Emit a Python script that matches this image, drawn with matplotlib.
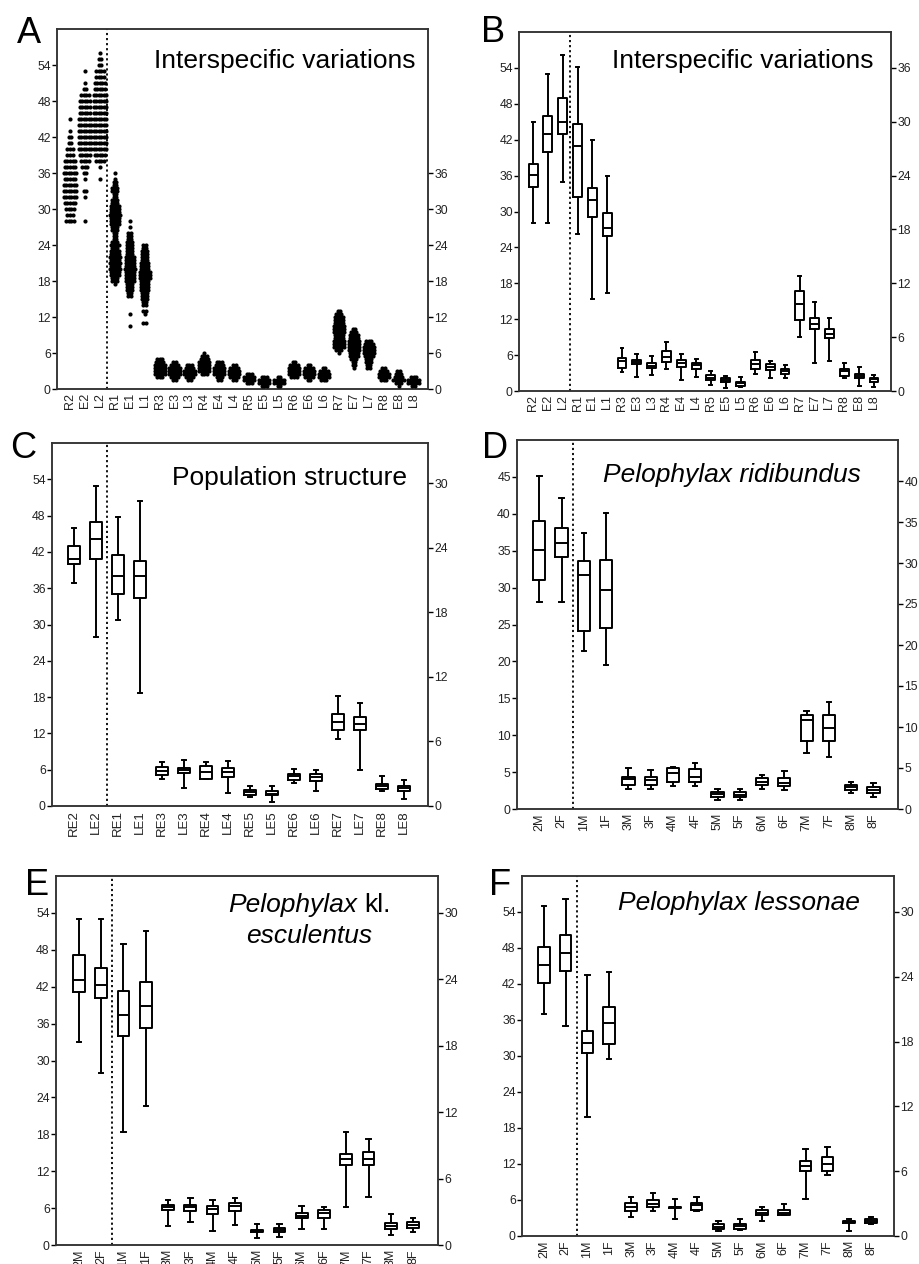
import matplotlib.pyplot as plt

plt.rcParams['font.family'] = ['Liberation Sans', 'DejaVu Sans']

# ---------------- data ----------------
rel_labels = ['R2', 'E2', 'L2', 'R1', 'E1', 'L1', 'R3', 'E3', 'L3', 'R4', 'E4', 'L4',
              'R5', 'E5', 'L5', 'R6', 'E6', 'L6', 'R7', 'E7', 'L7', 'R8', 'E8', 'L8']
pop_labels = ['RE2', 'LE2', 'RE1', 'LE1', 'RE3', 'LE3', 'RE4', 'LE4',
              'RE5', 'LE5', 'RE6', 'LE6', 'RE7', 'LE7', 'RE8', 'LE8']
sex_labels = ['2M', '2F', '1M', '1F', '3M', '3F', '4M', '4F',
              '5M', '5F', '6M', '6F', '7M', '7F', '8M', '8F']

# panel A: individual measurements, value -> number of dots
A_R2 = {28: 4, 29: 3, 30: 4, 31: 5, 32: 6, 33: 6, 34: 6, 35: 5, 36: 6, 37: 5, 38: 5,
        39: 3, 40: 3, 41: 2, 42: 2, 43: 1, 45: 1}
A_E2 = {28: 1, 32: 1, 33: 2, 35: 1, 36: 2, 37: 3, 38: 4, 39: 5, 40: 6, 41: 6, 42: 6,
        43: 6, 44: 6, 45: 6, 46: 5, 47: 5, 48: 5, 49: 4, 50: 2, 51: 1, 53: 1}
A_L2 = {35: 1, 37: 1, 38: 4, 39: 5, 40: 6, 41: 6, 42: 6, 43: 6, 44: 6, 45: 6, 46: 6,
        47: 6, 48: 6, 49: 6, 50: 5, 51: 5, 52: 4, 53: 4, 54: 2, 55: 2, 56: 1}
A_R1 = {17.5: 1, 18: 3, 18.5: 3, 19: 4, 19.5: 4, 20: 5, 20.5: 4, 21: 5, 21.5: 4, 22: 5,
        22.5: 4, 23: 4, 23.5: 3, 24: 4, 24.5: 3, 25: 2, 25.5: 2, 26: 2, 26.5: 3, 27: 3,
        27.5: 4, 28: 4, 28.5: 4, 29: 5, 29.5: 4, 30: 4, 30.5: 4, 31: 3, 31.5: 3, 32: 2,
        32.5: 2, 33: 3, 33.5: 3, 34: 2, 34.5: 2, 35: 1, 36: 1}
A_E1 = {10.5: 1, 12.5: 1, 15.5: 2, 16: 2, 16.5: 3, 17: 3, 17.5: 3, 18: 4, 18.5: 4, 19: 4,
        19.5: 4, 20: 5, 20.5: 4, 21: 4, 21.5: 4, 22: 4, 22.5: 3, 23: 3, 23.5: 3, 24: 3,
        24.5: 3, 25: 2, 25.5: 2, 26: 2, 27: 1, 28: 1}
A_L1 = {11: 2, 12.5: 1, 13: 2, 14: 2, 14.5: 2, 15: 3, 15.5: 3, 16: 3, 16.5: 4, 17: 4,
        17.5: 4, 18: 4, 18.5: 5, 19: 5, 19.5: 5, 20: 4, 20.5: 4, 21: 4, 21.5: 3, 22: 3,
        22.5: 3, 23: 3, 23.5: 2, 24: 2}
A_R3 = {2.0: 3, 2.5: 5, 3.0: 5, 3.5: 5, 4.0: 5, 4.5: 4, 5.0: 3}
A_E3 = {1.5: 2, 2.0: 4, 2.5: 5, 3.0: 5, 3.5: 5, 4.0: 4, 4.5: 2}
A_L3 = {1.5: 2, 2.0: 4, 2.5: 5, 3.0: 5, 3.5: 4, 4.0: 3}
A_R4 = {2.5: 3, 3.0: 5, 3.5: 5, 4.0: 5, 4.5: 5, 5.0: 4, 5.5: 3, 6.0: 1}
A_E4 = {1.5: 2, 2.0: 3, 2.5: 5, 3.0: 5, 3.5: 5, 4.0: 4, 4.5: 3}
A_L4 = {1.5: 2, 2.0: 4, 2.5: 5, 3.0: 5, 3.5: 4, 4.0: 2}
A_R5 = {1.0: 3, 1.5: 5, 2.0: 5, 2.5: 3}
A_E5 = {0.5: 3, 1.0: 5, 1.5: 5, 2.0: 3}
A_L5 = {0.5: 2, 1.0: 5, 1.5: 5, 2.0: 2}
A_R6 = {2.0: 3, 2.5: 5, 3.0: 5, 3.5: 5, 4.0: 4, 4.5: 2}
A_E6 = {1.5: 2, 2.0: 4, 2.5: 5, 3.0: 5, 3.5: 4, 4.0: 2}
A_L6 = {1.5: 3, 2.0: 5, 2.5: 5, 3.0: 4, 3.5: 2}
A_R7 = {6.0: 1, 6.5: 3, 7: 5, 7.5: 5, 8: 5, 8.5: 4, 9: 4, 9.5: 5, 10: 5, 10.5: 5,
        11: 4, 11.5: 4, 12: 4, 12.5: 3, 13: 2}
A_E7 = {3.5: 1, 4: 2, 4.5: 2, 5: 3, 5.5: 4, 6: 4, 6.5: 5, 7: 5, 7.5: 5, 8: 5, 8.5: 4,
        9: 4, 9.5: 3, 10: 2}
A_L7 = {3.5: 2, 4: 2, 4.5: 3, 5: 3, 5.5: 4, 6: 5, 6.5: 5, 7: 5, 7.5: 4, 8: 3}
A_R8 = {1.5: 3, 2.0: 5, 2.5: 5, 3.0: 4, 3.5: 2}
A_E8 = {0.5: 1, 1.0: 3, 1.5: 5, 2.0: 4, 2.5: 3, 3.0: 2}
A_L8 = {0.5: 2, 1.0: 5, 1.5: 5, 2.0: 3}

# box plot summaries (left of dotted line: left axis units, right of it: right axis units)
b_low = [28.0, 28.0, 34.9, 17.5, 10.3, 10.9, 2.1, 1.56, 1.8, 2.5, 1.2, 1.6,
         0.7, 0.3, 0.45, 1.9, 1.4, 1.5, 6.0, 3.1, 3.3, 1.4, 0.6, 0.5]
b_q1 = [34.1, 40.0, 42.9, 21.6, 19.4, 17.3, 2.6, 2.97, 2.6, 3.2, 2.7, 2.5,
        1.2, 1.0, 0.6, 2.4, 2.3, 1.9, 7.9, 6.9, 5.9, 1.7, 1.4, 1.0]
b_med = [36.1, 42.9, 45.0, 27.3, 21.3, 18.2, 3.3, 3.2, 2.8, 3.8, 3.1, 2.9,
         1.5, 1.2, 0.85, 3.0, 2.7, 2.2, 9.7, 7.5, 6.4, 2.2, 1.7, 1.3]
b_q3 = [38.0, 46.0, 48.9, 29.8, 22.6, 19.8, 3.64, 3.45, 3.1, 4.5, 3.45, 3.1,
        1.8, 1.4, 1.0, 3.4, 3.0, 2.5, 11.1, 8.1, 6.9, 2.5, 1.9, 1.5]
b_high = [45.0, 53.0, 56.1, 36.1, 28.0, 24.0, 4.83, 4.1, 3.9, 5.5, 4.1, 3.6,
          2.2, 1.7, 1.6, 4.3, 3.3, 2.9, 12.8, 9.9, 8.1, 3.1, 2.7, 1.8]

c_low = [36.9, 27.9, 17.3, 10.5, 2.5, 1.66, 2.5, 1.22, 0.85, 0.36, 2.15, 1.44, 6.2, 3.33, 1.44, 0.67]
c_q1 = [40.0, 40.9, 19.7, 19.3, 2.86, 3.08, 2.55, 2.68, 0.98, 0.98, 2.46, 2.31, 7.1, 7.1, 1.6, 1.38]
c_med = [40.9, 44.1, 21.4, 21.4, 3.3, 3.33, 3.2, 3.2, 1.28, 1.16, 2.77, 2.68, 7.8, 7.66, 1.84, 1.63]
c_q3 = [43.0, 46.9, 23.3, 22.8, 3.6, 3.54, 3.7, 3.54, 1.53, 1.38, 2.99, 2.93, 8.55, 8.3, 2.09, 1.84]
c_high = [46.0, 52.9, 26.9, 28.4, 4.07, 4.26, 4.07, 4.2, 1.84, 1.84, 3.48, 3.33, 10.2, 9.6, 2.77, 2.4]

d_low = [28.0, 28.0, 19.3, 17.6, 2.43, 2.43, 2.79, 2.79, 1.09, 1.13, 2.5, 2.3, 6.87, 6.4, 1.9, 1.5]
d_q1 = [31.0, 34.1, 21.7, 22.1, 2.95, 2.95, 3.31, 3.31, 1.41, 1.41, 2.91, 2.75, 8.25, 8.25, 2.3, 1.94]
d_med = [35.1, 36.0, 28.5, 26.7, 3.64, 3.56, 4.37, 3.96, 1.82, 1.74, 3.35, 3.23, 10.8, 9.9, 2.63, 2.34]
d_q3 = [39.0, 38.1, 30.2, 30.4, 3.96, 3.96, 5.05, 4.93, 2.02, 2.02, 3.72, 3.72, 11.5, 11.5, 2.91, 2.63]
d_high = [45.1, 42.1, 33.6, 36.1, 5.05, 4.77, 5.17, 5.66, 2.5, 2.5, 4.16, 4.6, 12.0, 13.1, 3.35, 3.23]

e_low = [33.0, 28.0, 10.2, 12.6, 1.68, 2.04, 1.3, 1.83, 0.6, 0.75, 1.44, 1.44, 3.4, 4.3, 0.9, 1.2]
e_q1 = [41.1, 40.1, 18.9, 19.6, 3.16, 3.1, 2.77, 3.1, 1.14, 1.14, 2.4, 2.4, 7.2, 7.2, 1.44, 1.5]
e_med = [43.1, 42.2, 20.8, 21.6, 3.4, 3.4, 3.25, 3.55, 1.23, 1.32, 2.65, 2.86, 7.8, 7.8, 1.68, 1.8]
e_q3 = [47.1, 45.1, 22.9, 23.8, 3.6, 3.6, 3.55, 3.76, 1.35, 1.5, 2.86, 3.16, 8.2, 8.36, 1.95, 2.04]
e_high = [53.0, 53.0, 27.2, 28.4, 4.06, 4.27, 4.06, 4.27, 1.86, 1.86, 3.55, 3.4, 10.2, 9.6, 2.77, 2.43]

f_low = [37.0, 35.0, 11.0, 16.4, 1.76, 2.32, 1.61, 2.29, 0.46, 0.56, 1.39, 1.92, 3.46, 5.66, 0.46, 1.08]
f_q1 = [42.2, 44.1, 16.9, 17.8, 2.32, 2.69, 2.57, 2.41, 0.62, 0.62, 1.92, 1.92, 6.03, 6.03, 1.18, 1.18]
f_med = [45.1, 47.1, 17.9, 19.7, 2.72, 3.0, 2.66, 2.84, 0.87, 0.93, 2.17, 2.17, 6.5, 6.65, 1.3, 1.39]
f_q3 = [48.2, 50.1, 19.0, 21.2, 3.09, 3.34, 2.72, 3.09, 1.08, 1.14, 2.41, 2.41, 6.96, 7.36, 1.39, 1.61]
f_high = [55.0, 56.1, 24.2, 24.4, 3.65, 4.02, 3.46, 3.65, 1.39, 1.61, 2.72, 2.94, 8.1, 8.26, 1.55, 1.79]

a_groups = [A_R2, A_E2, A_L2, A_R1, A_E1, A_L1, A_R3, A_E3, A_L3, A_R4, A_E4, A_L4,
            A_R5, A_E5, A_L5, A_R6, A_E6, A_L6, A_R7, A_E7, A_L7, A_R8, A_E8, A_L8]

# ---------------- layout ----------------
W, H = 919, 1264
fig = plt.figure(figsize=(W / 100, H / 100), dpi=100)


def px_axes(left, right, top, bottom):
    return fig.add_axes([left / W, 1 - bottom / H, (right - left) / W, (bottom - top) / H])


def fig_text(x, y, s, **kw):
    fig.text(x / W, 1 - y / H, s, va='baseline', **kw)


TICK_COLOR = '#222222'


def setup(ax, labels, split, ylim_l, ylim_r, lticks, rticks, xlim, xsize=9):
    ax.set_xlim(*xlim)
    ax.set_ylim(*ylim_l)
    ax.set_yticks(lticks)
    ax.set_xticks(range(len(labels)))
    ax.set_xticklabels(labels, rotation=90)
    ax.tick_params(axis='x', length=0, labelsize=xsize, pad=3, labelcolor=TICK_COLOR)
    ax.tick_params(axis='y', direction='out', length=3.5, width=1, labelsize=8.8,
                   pad=1, labelcolor=TICK_COLOR)
    ax2 = ax.twinx()
    ax2.set_ylim(*ylim_r)
    ax2.set_yticks(rticks)
    ax2.tick_params(axis='y', direction='out', length=3.5, width=1, labelsize=8.8,
                    pad=1, labelcolor=TICK_COLOR)
    for a in (ax, ax2):
        for sp in a.spines.values():
            sp.set_linewidth(1.1)
            sp.set_color('#333333')
    ax.axvline(split - 0.5, color='black', linestyle=(0, (1.2, 1.6)), lw=1.3)
    return ax2


def boxes(ax, ax2, split, low, q1, med, q3, high, width):
    stats = [dict(whislo=lo, q1=a, med=m, q3=b, whishi=hi, fliers=[])
             for lo, a, m, b, hi in zip(low, q1, med, q3, high)]
    style = dict(color='black', linewidth=1.4)
    kw = dict(widths=width, capwidths=0.2, showfliers=False, manage_ticks=False,
              boxprops=style, whiskerprops=style, capprops=style, medianprops=style)
    ax.bxp(stats[:split], positions=range(split), **kw)
    ax2.bxp(stats[split:], positions=range(split, len(stats)), **kw)


def swarm(ax, pos, rows):
    xs, ys = [], []
    for v, n in rows.items():
        for k in range(n):
            xs.append(pos + (k - (n - 1) / 2) * 0.17)
            ys.append(v)
    ax.scatter(xs, ys, s=9, c='black', linewidths=0, zorder=3)


six = list(range(0, 55, 6))

# A
axA = px_axes(57, 428, 29, 389)
axA2 = setup(axA, rel_labels, 3, (0, 60), (0, 60), six, list(range(0, 37, 6)), (-0.87, 23.97))
for i, g in enumerate(a_groups):
    swarm(axA if i < 3 else axA2, i, g)
fig_text(415, 68, 'Interspecific variations', fontsize=19, ha='right')

# B
axB = px_axes(519, 891, 32, 391)
axB2 = setup(axB, rel_labels, 3, (0, 60), (0, 40), six, list(range(0, 37, 6)), (-0.95, 24.15))
boxes(axB, axB2, 3, b_low, b_q1, b_med, b_q3, b_high, 0.6)
fig_text(874, 68, 'Interspecific variations', fontsize=19, ha='right')

# C
axC = px_axes(52, 428, 443, 806)
axC2 = setup(axC, pop_labels, 2, (0, 60), (0, 33.75), six, list(range(0, 31, 6)), (-1.0, 16.1),
             xsize=9.5)
boxes(axC, axC2, 2, c_low, c_q1, c_med, c_q3, c_high, 0.53)
fig_text(407, 485, 'Population structure', fontsize=19, ha='right')

# D
axD = px_axes(517, 898, 440, 809)
axD2 = setup(axD, sex_labels, 2, (0, 50), (0, 45), list(range(0, 46, 5)),
             list(range(0, 41, 5)), (-1.0, 16.1))
boxes(axD, axD2, 2, d_low, d_q1, d_med, d_q3, d_high, 0.55)
fig_text(861, 482, 'Pelophylax ridibundus', fontsize=19, ha='right', style='italic')

# E
axE = px_axes(56, 438, 876, 1245)
axE2 = setup(axE, sex_labels, 2, (0, 60), (0, 33.33), six, list(range(0, 31, 6)), (-1.03, 16.12))
boxes(axE, axE2, 2, e_low, e_q1, e_med, e_q3, e_high, 0.53)
fig_text(228, 912, 'Pelophylax', fontsize=19, ha='left', style='italic')
fig_text(364, 912, 'kl.', fontsize=19, ha='left')
fig_text(309, 943, 'esculentus', fontsize=19, ha='center', style='italic')

# F
axF = px_axes(522, 894, 876, 1236)
axF2 = setup(axF, sex_labels, 2, (0, 60), (0, 33.33), six, list(range(0, 31, 6)), (-1.0, 16.05))
boxes(axF, axF2, 2, f_low, f_q1, f_med, f_q3, f_high, 0.53)
fig_text(860, 910, 'Pelophylax lessonae', fontsize=19, ha='right', style='italic')

# panel letters
for letter, x, y in [('A', 17, 43), ('B', 481, 42), ('C', 10, 458),
                     ('D', 482, 458), ('E', 25, 895), ('F', 489, 895)]:
    fig_text(x, y, letter, fontsize=26)

fig.savefig('out.png', dpi=100)
